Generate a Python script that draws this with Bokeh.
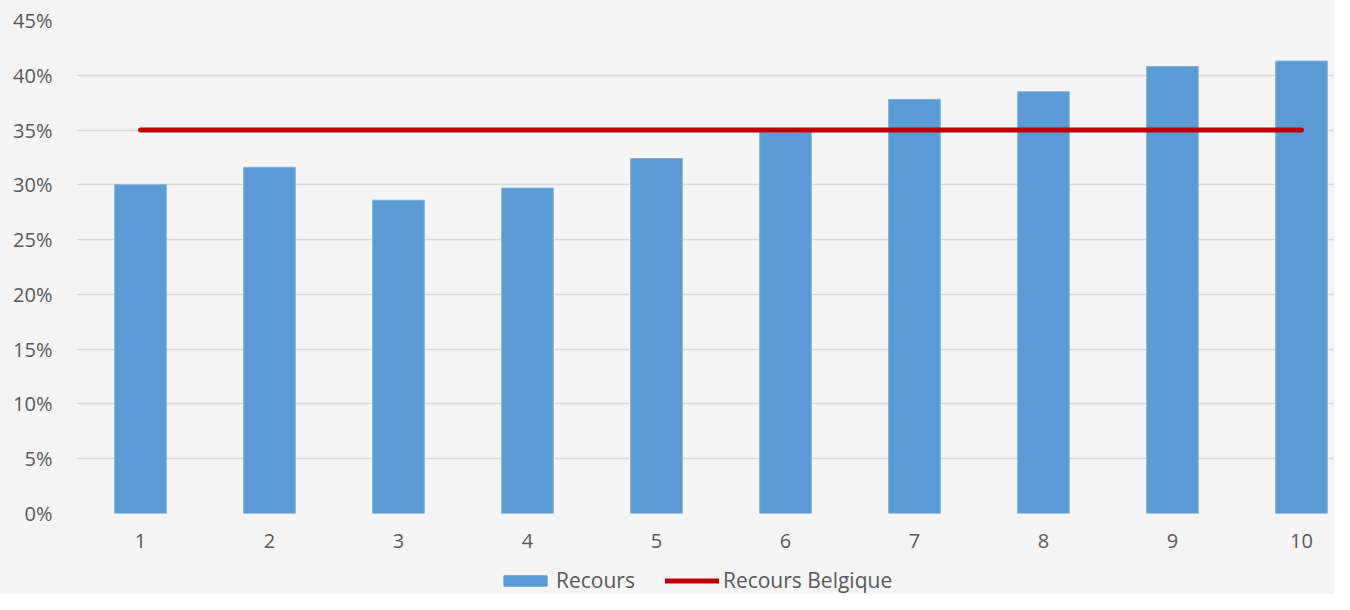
from bokeh.plotting import figure
from bokeh.models import ColumnDataSource, Legend, LegendItem, FixedTicker, NumeralTickFormatter, Range1d
from bokeh.layouts import column
from bokeh.embed import file_html
from bokeh.resources import INLINE

categories = [1, 2, 3, 4, 5, 6, 7, 8, 9, 10]
recours = [0.300, 0.316, 0.286, 0.297, 0.324, 0.348, 0.378, 0.385, 0.408, 0.413]
recours_belgique = [0.35] * 10
y_ticks = [0, 0.05, 0.10, 0.15, 0.20, 0.25, 0.30, 0.35, 0.40, 0.45]

FONT = "Open Sans"
TXT = "#595959"
BG = "#f5f5f5"
BAR = "#5b9bd5"
RED = "#c00000"

src = ColumnDataSource(dict(x=categories, r=recours, b=recours_belgique))

p = figure(width=1334, height=565, output_backend="svg", toolbar_location=None,
           x_range=Range1d(0.504, 10.256), y_range=Range1d(0, 0.45),
           min_border_left=76, min_border_right=0, min_border_top=20, min_border_bottom=52)
p.background_fill_color = BG
p.border_fill_color = BG
p.outline_line_color = None

p.vbar(x="x", top="r", width=0.40, source=src, fill_color=BAR, line_color="#7fb0dd", line_width=1)
p.line(x="x", y="b", source=src, line_color=RED, line_width=5, line_cap="round")

p.xgrid.grid_line_color = None
p.ygrid.grid_line_color = "#d9d9d9"
p.ygrid.grid_line_width = 1.5
p.yaxis.ticker = FixedTicker(ticks=y_ticks)
p.xaxis.ticker = FixedTicker(ticks=categories)
p.yaxis.formatter = NumeralTickFormatter(format="0%")
for ax in (p.xaxis, p.yaxis):
    ax.axis_line_color = None
    ax.major_tick_line_color = None
    ax.minor_tick_line_color = None
    ax.major_tick_out = 0
    ax.major_tick_in = 0
    ax.minor_tick_out = 0
    ax.major_label_text_font = FONT
    ax.major_label_text_font_size = "20px"
    ax.major_label_text_color = TXT
p.yaxis.major_label_standoff = 24
p.xaxis.major_label_standoff = 20

# Legend strip: same series, drawn outside the visible range so only the legend shows
pl = figure(width=1334, height=29, output_backend="svg", toolbar_location=None,
            x_axis_location=None, y_axis_location=None,
            x_range=Range1d(100, 101), y_range=Range1d(100, 101),
            min_border_left=0, min_border_right=0, min_border_top=0, min_border_bottom=0)
pl.grid.visible = False
pl.background_fill_alpha = 0
pl.border_fill_alpha = 0
pl.outline_line_color = None
lb = pl.vbar(x="x", top="r", width=0.40, source=src, fill_color=BAR, line_color=BAR)
ll = pl.line(x="x", y="b", source=src, line_color=RED, line_width=5, line_cap="round")

legend = Legend(items=[LegendItem(label="Recours", renderers=[lb]),
                       LegendItem(label="Recours Belgique", renderers=[ll])],
                orientation="horizontal", location=(422, 0),
                background_fill_alpha=0, border_line_color=None,
                label_text_font=FONT, label_text_font_size="21px", label_text_color=TXT,
                glyph_width=54, glyph_height=13, label_standoff=4, spacing=30,
                padding=0, margin=0)
pl.add_layout(legend, "center")

layout = column(p, pl, spacing=0, styles={"background-color": BG})
open("out.html", "w").write(file_html(layout, INLINE))
